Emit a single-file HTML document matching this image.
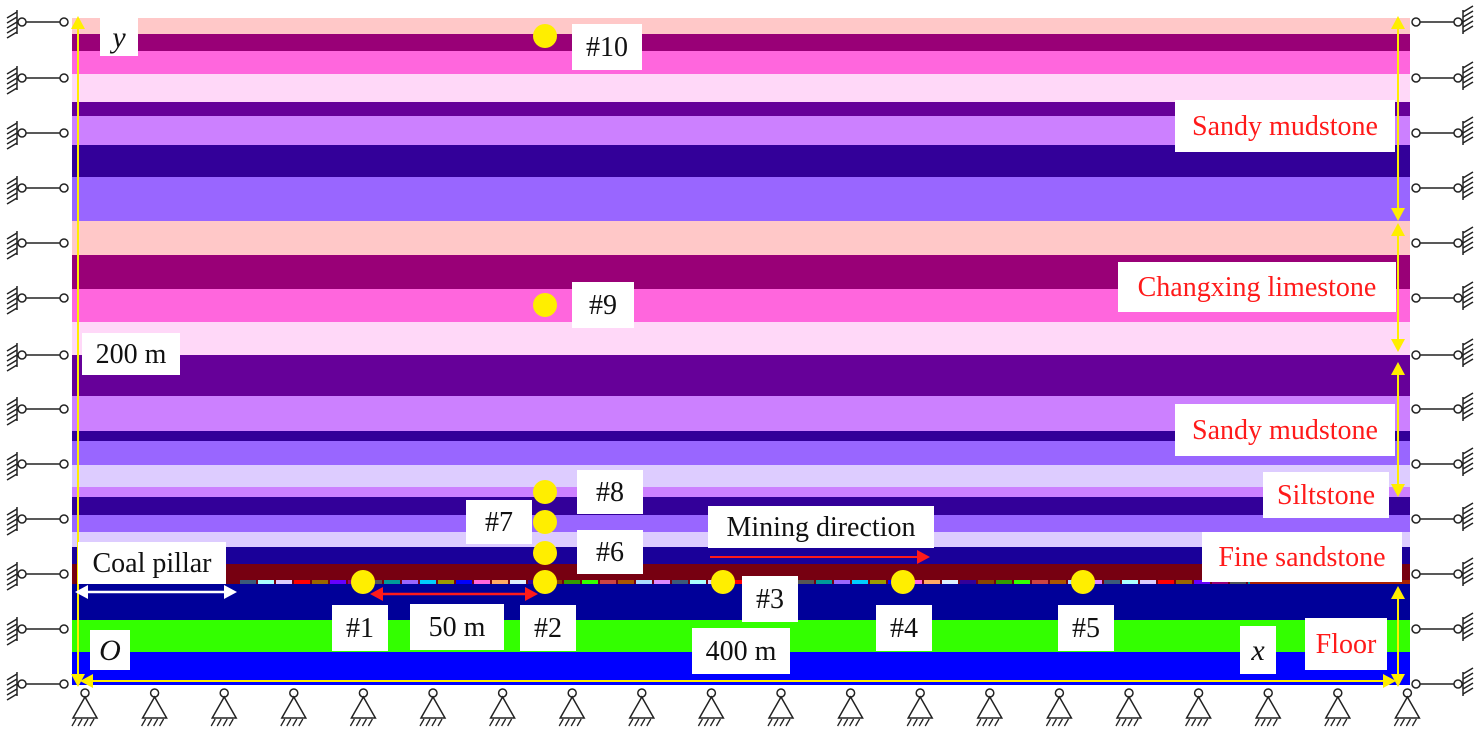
<!DOCTYPE html>
<html><head><meta charset="utf-8"><style>
body{margin:0;background:#fff;}
svg{display:block;font-family:"Liberation Serif",serif;}
</style></head><body>
<svg id="s" width="1480" height="732" viewBox="0 0 1480 732">
<g id="layers"></g>
<g id="seam"></g>
<g id="bcs"></g>
<g id="ann"></g>
</svg>
<script>
const layerTops=[18,34,51,74,102,116,145,177,221,255,289,322,355,396,431,441,465,487,497,515,532,547,564,580,584,620,652];
const layerBottom=685;
const layerColors=["#ffc8c8","#990077","#ff66dd","#ffd8f8","#660099","#cc80ff","#330099","#9966ff","#ffc8c8","#990077","#ff66dd","#ffd8f8","#660099","#cc80ff","#330099","#9966ff","#ddccff","#cc80ff","#330099","#9966ff","#ddccff","#1a0099","#770011","#770011","#000099","#33ff00","#0000ff"];
const seamColors=["#3b5a7a","#555","#ffaa66","#aa5500","#996600","#999900","#339900","#aaffff","#009999","#ddeeff","#aaddff","#6600ff","#0000ff","#33ff00","#ddccff","#9966ff","#330099","#dd88ff","#990077","#ff66dd","#cc4444","#ff0000","#00ccff","#884400"];
const NS="http://www.w3.org/2000/svg";
function mk(t,a,p){const e=document.createElementNS(NS,t);for(const k in a)e.setAttribute(k,a[k]);p.appendChild(e);return e;}
const L=document.getElementById('layers');
for(let i=0;i<layerTops.length;i++){
 const b=i<layerTops.length-1?layerTops[i+1]:layerBottom;
 const r=mk('rect',{x:72,y:layerTops[i],width:1338,height:b-layerTops[i],fill:layerColors[i]},L);
 
 
}
const S=document.getElementById('seam');
let k=0;
for(let x=240;x<1250;x+=18){
 const r=mk('rect',{x:x,y:580,width:16,height:4,fill:seamColors[k%seamColors.length]},S);k+=7;
 
 
}
mk('rect',{x:1250,y:580,width:160,height:4,fill:"#aa2200"},S);
const B=document.getElementById('bcs');
const sideY=[22,78,133,188,243,298,355,409,464,519,574,629,684];
function leftSup(y){const g=mk('g',{},B);
 mk('line',{x1:22,y1:y,x2:64,y2:y,stroke:"#222","stroke-width":1.5},g);
 mk('circle',{cx:22,cy:y,r:4,fill:"#fff",stroke:"#222","stroke-width":1.5},g);
 mk('circle',{cx:64,cy:y,r:4,fill:"#fff",stroke:"#222","stroke-width":1.5},g);
 mk('line',{x1:17,y1:y-12,x2:17,y2:y+12,stroke:"#222","stroke-width":1.5},g);
 for(let j=0;j<5;j++)mk('line',{x1:17,y1:y-10+j*5,x2:7,y2:y-4+j*5,stroke:"#222","stroke-width":1.5},g);}
function rightSup(y){const g=mk('g',{},B);
 mk('line',{x1:1416,y1:y,x2:1458,y2:y,stroke:"#222","stroke-width":1.5},g);
 mk('circle',{cx:1416,cy:y,r:4,fill:"#fff",stroke:"#222","stroke-width":1.5},g);
 mk('circle',{cx:1458,cy:y,r:4,fill:"#fff",stroke:"#222","stroke-width":1.5},g);
 mk('line',{x1:1463,y1:y-12,x2:1463,y2:y+12,stroke:"#222","stroke-width":1.5},g);
 for(let j=0;j<5;j++)mk('line',{x1:1463,y1:y-10+j*5,x2:1473,y2:y-16+j*5,stroke:"#222","stroke-width":1.5},g);}
sideY.forEach(y=>{leftSup(y);rightSup(y);});
for(let i=0;i<20;i++){const x=85+i*69.6;const g=mk('g',{},B);
 mk('circle',{cx:x,cy:693,r:4,fill:"#fff",stroke:"#222","stroke-width":1.5},g);
 mk('path',{d:`M${x} 697 L${x-12} 718 L${x+12} 718 Z`,fill:"#fff",stroke:"#222","stroke-width":1.5},g);
 for(let j=0;j<4;j++)mk('line',{x1:x-9+j*6,y1:719,x2:x-13+j*6,y2:726,stroke:"#222","stroke-width":1.3},g);}
const A=document.getElementById('ann');
function arrowHead(x,y,dir,col,p){const s=7,l=13;let d;
 if(dir=='u')d=`M${x} ${y} L${x-s} ${y+l} L${x+s} ${y+l}Z`;
 if(dir=='d')d=`M${x} ${y} L${x-s} ${y-l} L${x+s} ${y-l}Z`;
 if(dir=='l')d=`M${x} ${y} L${x+l} ${y-s} L${x+l} ${y+s}Z`;
 if(dir=='r')d=`M${x} ${y} L${x-l} ${y-s} L${x-l} ${y+s}Z`;
 mk('path',{d:d,fill:col},p);}
function vArrow(x,y1,y2,name){const g=mk('g',{},A);
 mk('line',{x1:x,y1:y1+6,x2:x,y2:y2-6,stroke:"#ffee00","stroke-width":2},g);arrowHead(x,y1,'u',"#ffee00",g);arrowHead(x,y2,'d',"#ffee00",g);}
function hArrow(x1,x2,y,col,name,w){const g=mk('g',{},A);
 mk('line',{x1:x1+6,y1:y,x2:x2-6,y2:y,stroke:col,"stroke-width":w||2},g);arrowHead(x1,y,'l',col,g);arrowHead(x2,y,'r',col,g);}
vArrow(78,16,687,'height-arrow');
hArrow(80,1396,681,"#ffee00",'width-arrow');
vArrow(1398,16,221,'sandy-mudstone-upper-range');
vArrow(1398,223,352,'limestone-range');
vArrow(1398,362,497,'sandy-mudstone-lower-range');
vArrow(1398,586,687,'floor-range');
hArrow(75,237,592,"#ffffff",'coal-pillar-arrow',2.5);
hArrow(370,538,594,"#ff1a1a",'spacing-arrow',2.5);
{const g=mk('g',{},A);
 mk('line',{x1:710,y1:557,x2:920,y2:557,stroke:"#ff1a1a","stroke-width":2},g);arrowHead(930,557,'r',"#ff1a1a",g);}
function label(x,y,w,h,txt,col,name,fs,it){fs=fs||28;const g=mk('g',{},A);
 mk('rect',{x:x,y:y,width:w,height:h,fill:"#fff"},g);
 const t=mk('text',{x:x+w/2,y:y+h/2+fs*0.33,"text-anchor":"middle","font-size":fs,fill:col||"#111"},g);
 if(it)t.setAttribute('font-style','italic');t.textContent=txt;}
label(100,18,38,38,'y','#111','y-axis-label',30,true);
label(572,24,70,46,'#10','#111','point-10-label');
label(572,282,62,46,'#9','#111','point-9-label');
label(82,333,98,42,'200 m','#111','height-label');
label(1175,100,220,52,'Sandy mudstone','#ff1a1a','sandy-mudstone-upper-label');
label(1118,262,278,50,'Changxing limestone','#ff1a1a','limestone-label');
label(1175,404,220,52,'Sandy mudstone','#ff1a1a','sandy-mudstone-lower-label');
label(1263,472,126,46,'Siltstone','#ff1a1a','siltstone-label');
label(1202,532,200,50,'Fine sandstone','#ff1a1a','fine-sandstone-label');
label(1305,618,82,52,'Floor','#ff1a1a','floor-label');
label(577,470,66,44,'#8','#111','point-8-label');
label(466,500,66,44,'#7','#111','point-7-label');
label(577,530,66,44,'#6','#111','point-6-label');
label(708,506,226,42,'Mining direction','#111','mining-direction-label');
label(78,542,148,42,'Coal pillar','#111','coal-pillar-label');
label(332,605,56,46,'#1','#111','point-1-label');
label(410,604,94,46,'50 m','#111','spacing-label');
label(520,605,56,46,'#2','#111','point-2-label');
label(742,576,56,46,'#3','#111','point-3-label');
label(876,605,56,46,'#4','#111','point-4-label');
label(1058,605,56,46,'#5','#111','point-5-label');
label(90,630,40,40,'O','#111','origin-label',30,true);
label(692,628,98,46,'400 m','#111','width-label');
label(1240,626,36,48,'x','#111','x-axis-label',30,true);
const pts=[[363,582],[545,582],[723,582],[903,582],[1083,582],[545,553],[545,522],[545,492],[545,305],[545,36]];
pts.forEach((p,i)=>{const c=mk('circle',{cx:p[0],cy:p[1],r:12,fill:"#ffee00"},A);
 
 });
</script>
</body></html>
